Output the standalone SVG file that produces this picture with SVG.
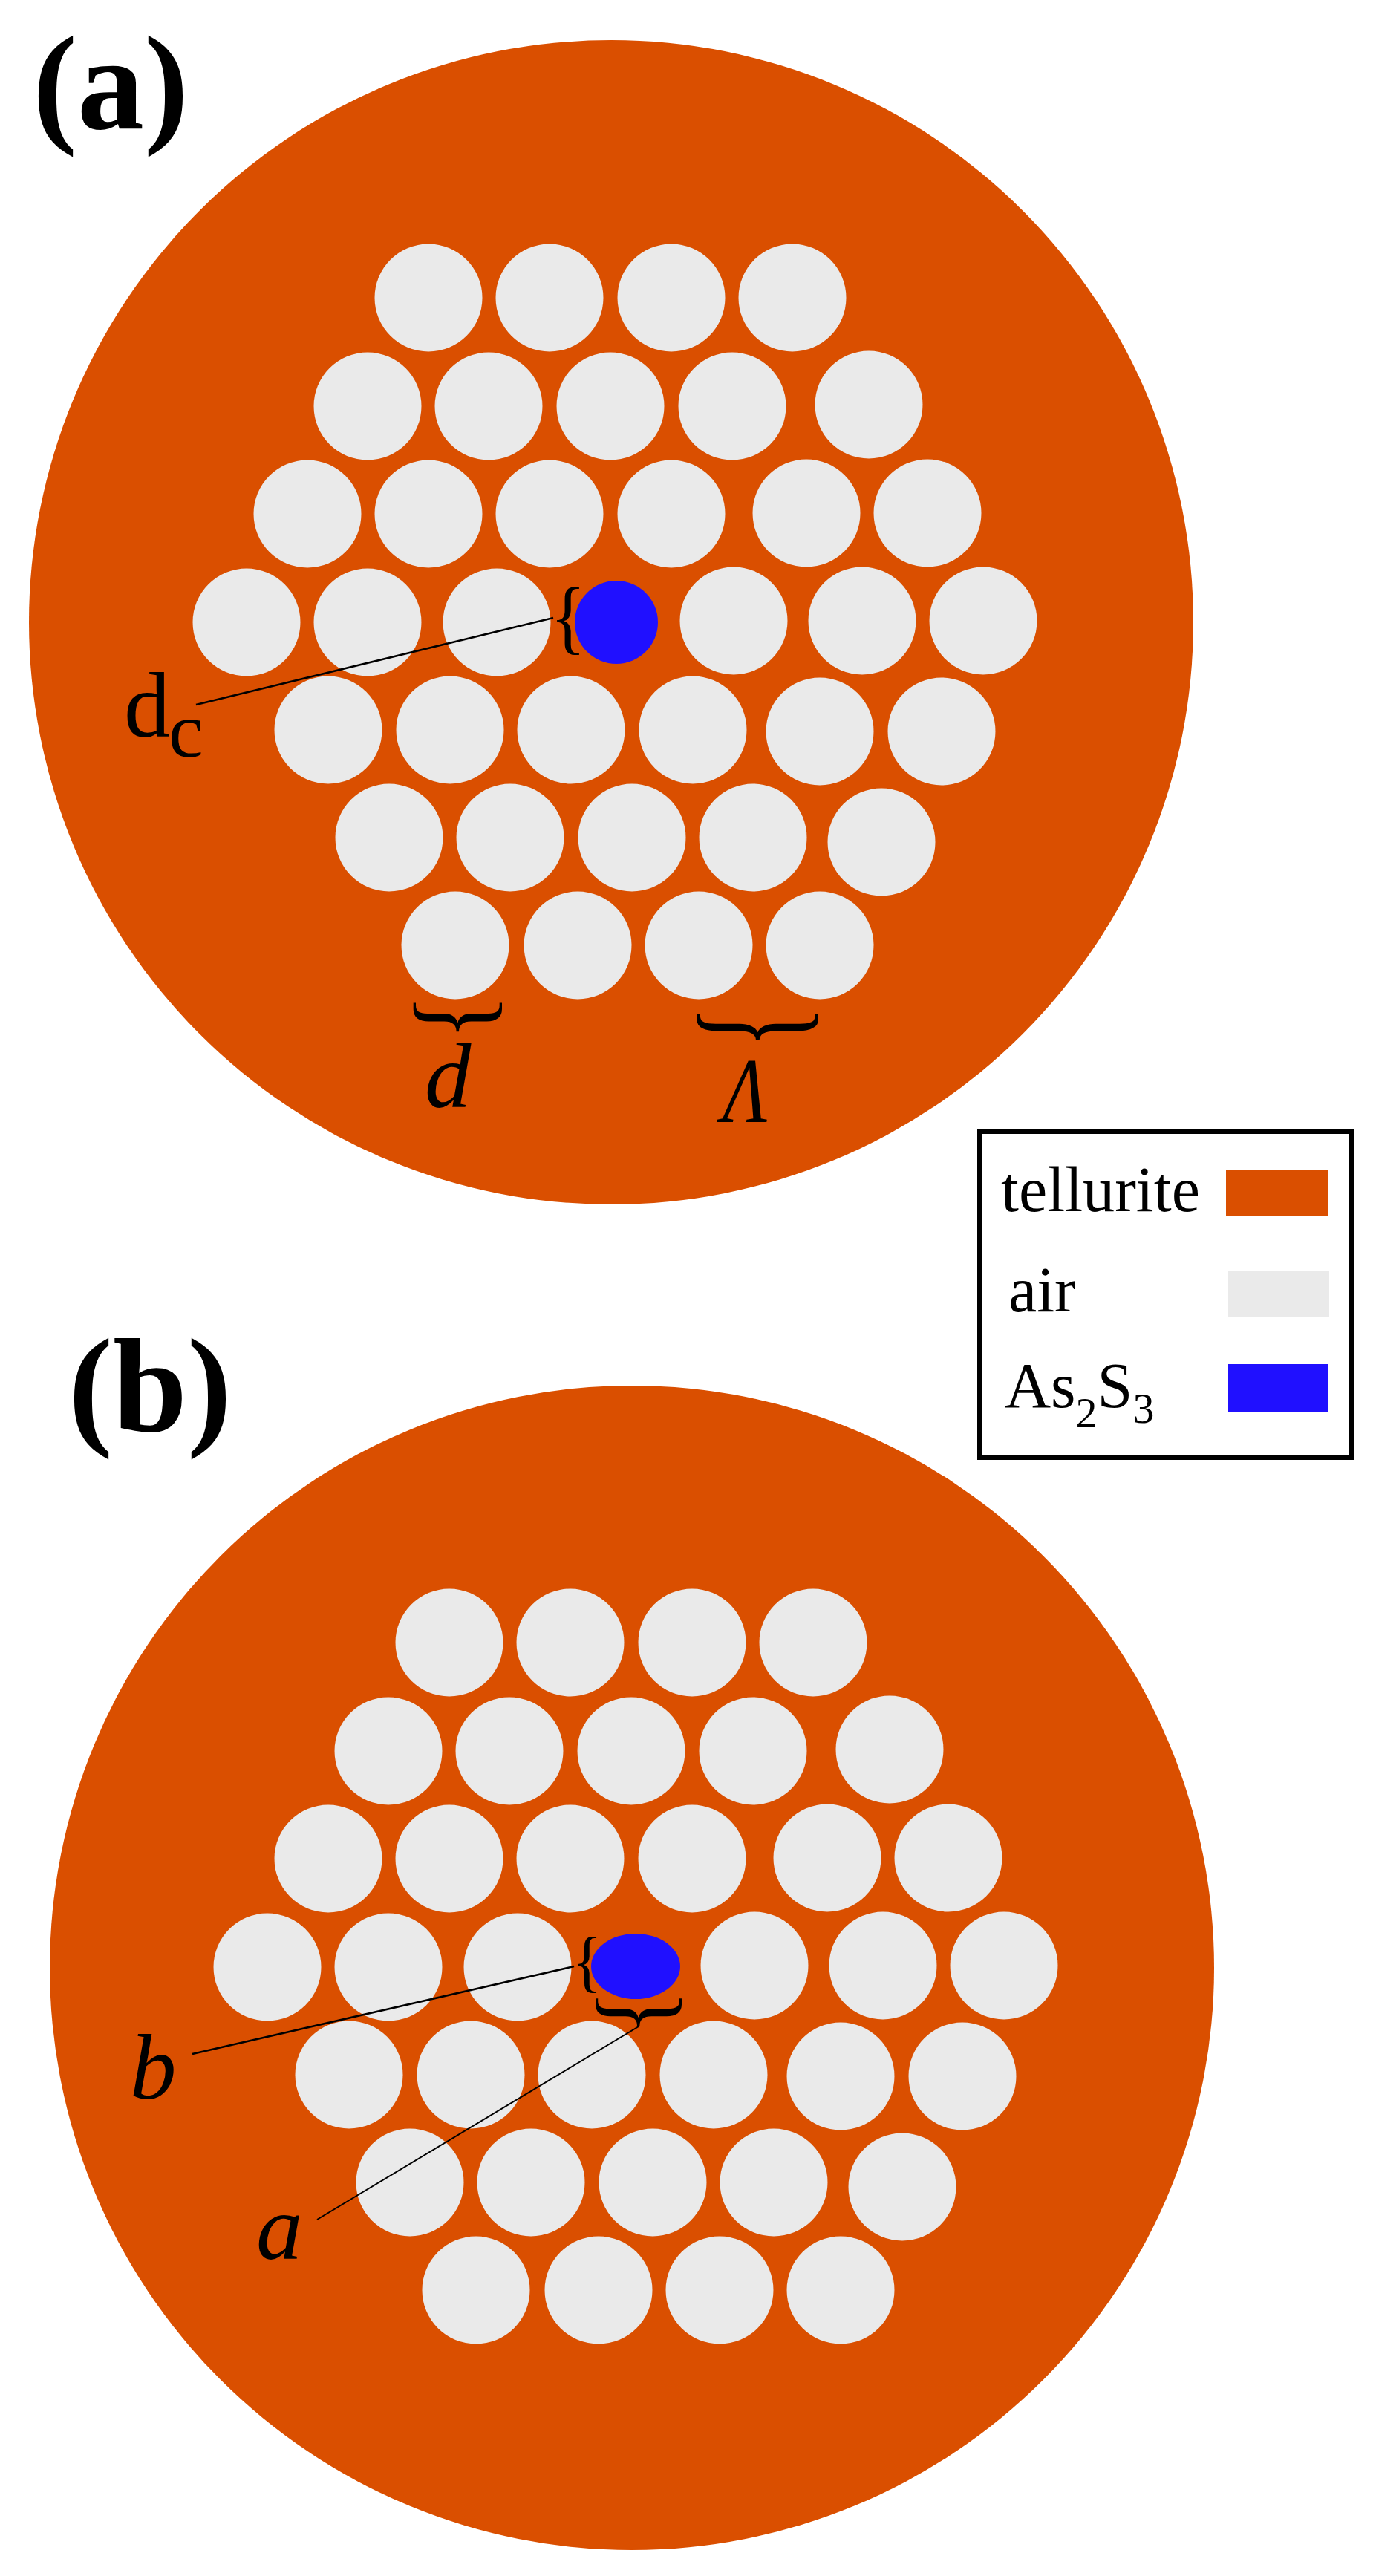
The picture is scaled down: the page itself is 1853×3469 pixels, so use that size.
<svg xmlns="http://www.w3.org/2000/svg" width="1853" height="3469" viewBox="0 0 1853 3469">
<style>
.disk{fill:#da4f00}
.hole{fill:#eaeaea}
.core{fill:#2010ff}
.ln{stroke:#000;stroke-width:2.6;fill:none}
text{font-family:"Liberation Serif","Times New Roman",serif;fill:#000}
.big{font-size:180px;font-weight:bold}
.it{font-size:125px;font-style:italic}
.leg{font-size:86px}
.brace{font-size:100px}
</style>
<defs>
<g id="lattice">
<circle class="hole" cx="577" cy="401" r="72.5"/><circle class="hole" cx="740" cy="401" r="72.5"/><circle class="hole" cx="904" cy="401" r="72.5"/><circle class="hole" cx="1067" cy="401" r="72.5"/>
<circle class="hole" cx="495" cy="547" r="72.5"/><circle class="hole" cx="658" cy="547" r="72.5"/><circle class="hole" cx="822" cy="547" r="72.5"/><circle class="hole" cx="986" cy="547" r="72.5"/><circle class="hole" cx="1170" cy="545" r="72.5"/>
<circle class="hole" cx="414" cy="692" r="72.5"/><circle class="hole" cx="577" cy="692" r="72.5"/><circle class="hole" cx="740" cy="692" r="72.5"/><circle class="hole" cx="904" cy="692" r="72.5"/><circle class="hole" cx="1086" cy="691" r="72.5"/><circle class="hole" cx="1249" cy="691" r="72.5"/>
<circle class="hole" cx="332" cy="838" r="72.5"/><circle class="hole" cx="495" cy="838" r="72.5"/><circle class="hole" cx="669" cy="838" r="72.5"/><circle class="hole" cx="988" cy="836" r="72.5"/><circle class="hole" cx="1161" cy="836" r="72.5"/><circle class="hole" cx="1324" cy="836" r="72.5"/>
<circle class="hole" cx="442" cy="983" r="72.5"/><circle class="hole" cx="606" cy="983" r="72.5"/><circle class="hole" cx="769" cy="983" r="72.5"/><circle class="hole" cx="933" cy="983" r="72.5"/><circle class="hole" cx="1104" cy="985" r="72.5"/><circle class="hole" cx="1268" cy="985" r="72.5"/>
<circle class="hole" cx="524" cy="1128" r="72.5"/><circle class="hole" cx="687" cy="1128" r="72.5"/><circle class="hole" cx="851" cy="1128" r="72.5"/><circle class="hole" cx="1014" cy="1128" r="72.5"/><circle class="hole" cx="1187" cy="1134" r="72.5"/>
<circle class="hole" cx="613" cy="1273" r="72.5"/><circle class="hole" cx="778" cy="1273" r="72.5"/><circle class="hole" cx="941" cy="1273" r="72.5"/><circle class="hole" cx="1104" cy="1273" r="72.5"/>
</g>
</defs>
<g id="fiber-a">
<circle class="disk" cx="823" cy="838" r="784"/>
<use href="#lattice"/>
<ellipse class="core" cx="830" cy="838" rx="56" ry="56"/>
</g>
<g id="fiber-b">
<circle class="disk" cx="851" cy="2650" r="784"/>
<use href="#lattice" transform="translate(28 1811)"/>
<ellipse class="core" cx="856" cy="2648" rx="60" ry="44"/>
</g>
<g id="connectors">
<line class="ln" x1="264" y1="949" x2="745" y2="832"/>
<line class="ln" x1="259" y1="2766" x2="773" y2="2648"/>
<line class="ln" x1="427" y1="2989" x2="860" y2="2729" style="stroke-width:2"/>
</g>
<g id="label-a"><text class="big" x="44" y="173">(a)</text></g>
<g id="label-b"><text class="big" x="92" y="1927">(b)</text></g>
<g id="brace-dc"><text class="brace" x="-10" y="29" transform="translate(751 835) scale(1 1.11)">{</text></g>
<g id="brace-d"><text class="brace" x="-10" y="29" transform="translate(615 1388) rotate(-90) scale(1.3 1.44)">{</text></g>
<g id="brace-lambda"><text class="brace" x="-10" y="29" transform="translate(1019 1400) rotate(-90) scale(1.2 1.98)">{</text></g>
<g id="brace-b"><text class="brace" x="-10" y="29" transform="translate(779 2645) scale(.83 .92)">{</text></g>
<g id="brace-a"><text class="brace" x="-10" y="29" transform="translate(858 2727) rotate(-90) scale(1.24 1.4)">{</text></g>
<g id="label-dc"><text font-size="125" x="167" y="992">d</text><text font-size="105" x="227" y="1019">c</text></g>
<g id="label-d"><text class="it" x="572" y="1491">d</text></g>
<g id="label-lambda"><text class="it" transform="translate(973 1511) scale(.8 1)">Λ</text></g>
<g id="label-bb"><text class="it" x="175" y="2826">b</text></g>
<g id="label-aa"><text class="it" x="345" y="3042">a</text></g>
<g id="legend">
<rect x="1319" y="1524" width="501" height="439" fill="#fff" stroke="#000" stroke-width="6"/>
<text class="leg" x="1348" y="1631" textLength="268" lengthAdjust="spacingAndGlyphs">tellurite</text>
<rect class="disk" x="1651" y="1576" width="138" height="61"/>
<text class="leg" x="1358" y="1766">air</text>
<rect class="hole" x="1654" y="1711" width="136" height="62"/>
<text class="leg" x="1353" y="1895">As<tspan font-size="58" y="1922">2</tspan><tspan y="1895">S</tspan><tspan font-size="58" y="1916">3</tspan></text>
<rect class="core" x="1654" y="1837" width="135" height="65"/>
</g>
</svg>
